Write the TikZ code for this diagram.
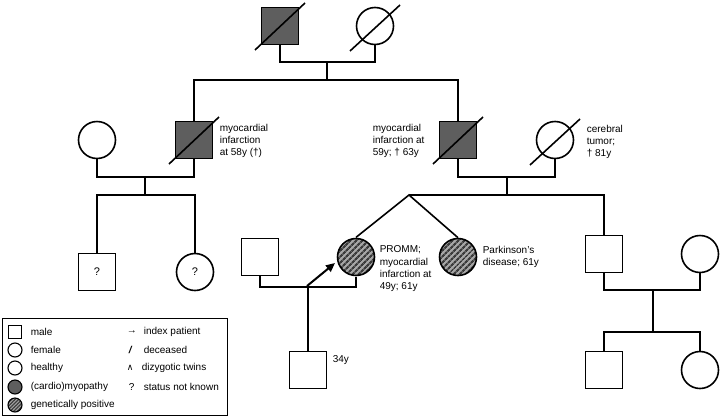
\documentclass[tikz,border=0pt]{standalone}
\usepackage{fontspec}
\setmainfont{Liberation Sans}
\newfontfamily\symfont{DejaVu Sans}
\usetikzlibrary{patterns.meta,arrows.meta}
\definecolor{sickfill}{HTML}{5E5E5E}
\definecolor{hatchbg}{HTML}{A6A6A6}
\definecolor{hatchfg}{HTML}{3C3C3C}

\begin{document}
\begin{tikzpicture}[x=1pt,y=-1pt,line width=1.6pt,
		male/.style={draw,rectangle,minimum size=37pt,inner sep=0pt,font=\fontsize{11}{12}\selectfont},
		female/.style={draw,circle,minimum size=37pt,inner sep=0pt,font=\fontsize{11}{12}\selectfont},
		sick/.style={fill=sickfill},
		carrier/.style={preaction={fill=hatchbg},pattern={Lines[angle=45,distance=4pt,line width=2.3pt]},pattern color=hatchfg},
		keymale/.style={draw,rectangle,minimum size=13pt,inner sep=0pt,line width=1.1pt},
		keyfemale/.style={draw,circle,minimum size=14pt,inner sep=0pt,line width=1.1pt},
		note/.style={anchor=north west,align=left,inner sep=0pt,font=\fontsize{10}{12.4}\selectfont},
		keytext/.style={anchor=west,inner sep=0pt,font=\fontsize{10}{12}\selectfont}]
	\useasboundingbox (0, 0) rectangle (722, 418);
	\node (gf) at (280, 26) [male,sick] {};
	\node (gm) at (375, 26) [female] {};
	\draw ([shift={(-25,24)}]gf.center)--([shift={(25,-23)}]gf.center);
	\draw ([shift={(-25,25)}]gm.center)--([shift={(25,-21)}]gm.center);
	\coordinate (m1) at (327, 62);
	\coordinate (s1) at (327, 80);
	\draw (gf.south) |- (m1) -| (gm.south);
	\draw (m1)--(s1);
	\node (au) at (97, 140) [female] {};
	\node (un) at (194, 140) [male,sick] {};
	\node (fa) at (458, 140) [male,sick] {};
	\node (mo) at (555, 140) [female] {};
	\draw ([shift={(-25,24)}]un.center)--([shift={(25,-23)}]un.center);
	\draw ([shift={(-25,24)}]fa.center)--([shift={(25,-23)}]fa.center);
	\draw ([shift={(-25,25)}]mo.center)--([shift={(25,-21)}]mo.center);
	\draw (un.north) |- (s1) -| (fa.north);
	\node at (219, 123) [note] {myocardial\\infarction\\at 58y (†)};
	\node at (372, 123) [note] {myocardial\\infarction at\\59y; † 63y};
	\node at (586, 124) [note] {cerebral\\tumor;\\† 81y};
	\coordinate (m2) at (145, 177);
	\coordinate (s2) at (145, 195);
	\draw (au.south) |- (m2) -| (un.south);
	\draw (m2)--(s2);
	\node (c1) at (97, 272) [male] {?};
	\node (c2) at (195, 272) [female] {?};
	\draw (c1.north) |- (s2) -| (c2.north);
	\coordinate (m3) at (507, 177);
	\coordinate (s3) at (507, 195);
	\coordinate (tw) at (409, 195);
	\draw (fa.south) |- (m3) -| (mo.south);
	\draw (m3)--(s3);
	\node (pr) at (356, 257) [female,carrier] {};
	\node (si) at (458, 257) [female,carrier] {};
	\node (br) at (604, 254) [male] {};
	\draw (tw) -| (br.north);
	\draw (pr.north)--(tw)--(si.north);
	\node at (379, 245) [note] {PROMM;\\myocardial\\infarction at\\49y; 61y};
	\node at (482, 245) [note] {Parkinson’s\\disease; 61y};
	\node (sp) at (260, 257) [male] {};
	\coordinate (m4) at (308, 287);
	\draw (sp.south) |- (m4) -| (pr.south);
	\node (so) at (308, 370) [male] {};
	\draw (m4)--(so.north);
	\node at (332, 355) [note] {34y};
	\coordinate (ip) at (307, 286);
	\coordinate (iq) at (335, 263);
	\draw[-{Triangle[length=9pt,width=8pt]},line width=2pt] (ip)--(iq);
	\node (wi) at (700, 254) [female] {};
	\coordinate (m5) at (653, 290);
	\coordinate (s5) at (653, 332);
	\draw (br.south) |- (m5) -| (wi.south);
	\draw (m5)--(s5);
	\node (g1) at (604, 370) [male] {};
	\node (g2) at (700, 370) [female] {};
	\draw (g1.north) |- (s5) -| (g2.north);
	\node (key) at (2, 318) [draw,rectangle,anchor=north west,minimum width=225pt,minimum height=97pt,line width=1.2pt] {};
	\node (k1) at (15, 332) [keymale] {};
	\node (k2) at (15, 350) [keyfemale] {};
	\node (k3) at (15, 368) [keyfemale] {};
	\node (k4) at (15, 387) [keyfemale,sick] {};
	\node (k5) at (15, 405) [keyfemale,carrier,pattern={Lines[angle=45,distance=2.5pt,line width=1.3pt]}] {};
	\node at (30, 332) [keytext] {male};
	\node at (30, 350) [keytext] {female};
	\node at (30, 368) [keytext] {healthy};
	\node at (30, 387) [keytext] {(cardio)myopathy};
	\node at (30, 405) [keytext] {genetically positive};
	\node at (126, 332) [keytext] {→};
	\node at (128, 350) [keytext] {\bfseries\itshape /};
	\node at (126, 368) [keytext] {\symfont\fontsize{9}{9}\selectfont ∧};
	\node at (128, 387) [keytext] {?};
	\node at (143, 332) [keytext] {index patient};
	\node at (143, 350) [keytext] {deceased};
	\node at (141, 368) [keytext] {dizygotic twins};
	\node at (143, 387) [keytext] {status not known};
\end{tikzpicture}
\end{document}
